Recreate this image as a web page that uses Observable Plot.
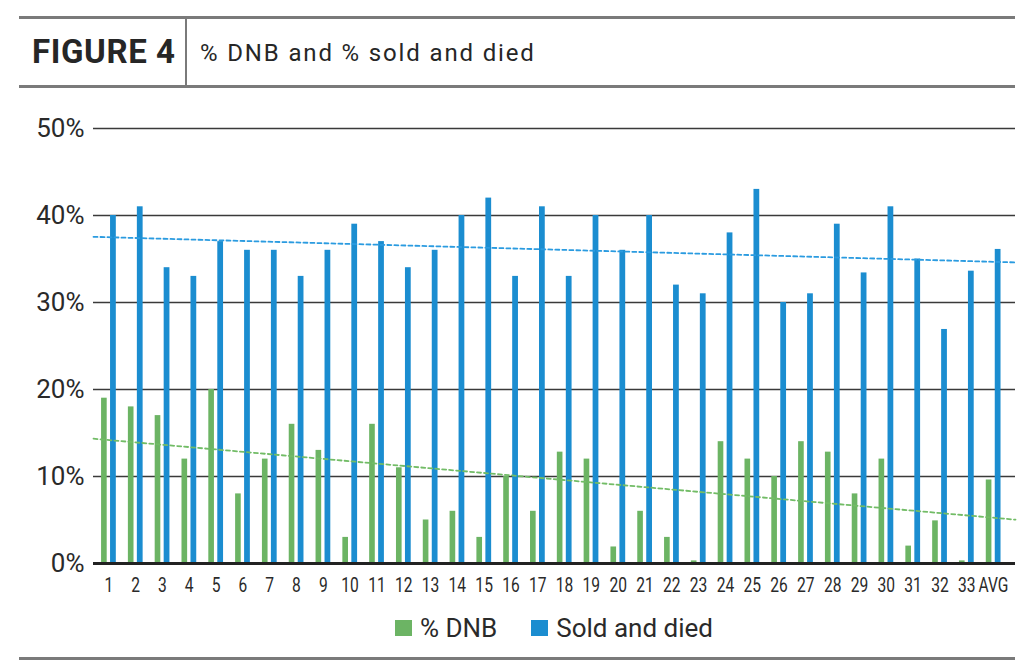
<!DOCTYPE html>
<html>
<head>
<meta charset="utf-8">
<script src="https://cdn.jsdelivr.net/npm/d3@7"></script>
<script src="https://cdn.jsdelivr.net/npm/@observablehq/plot@0.6"></script>
<style>
  html, body { margin: 0; padding: 0; background: #fff; }
  body { width: 1024px; height: 667px; position: relative; overflow: hidden; font-family: Roboto, "Noto Sans", sans-serif; color: #2a2a2a; }
  .rule { position: absolute; left: 19px; width: 996px; height: 3px; background: #7a7a7a; }
  .vdiv { position: absolute; left: 185px; top: 17px; width: 2px; height: 70px; background: #7a7a7a; }
  .fig { position: absolute; left: 32px; top: 30px; font-size: 33px; font-weight: 700; line-height: 44px; letter-spacing: 0.6px; color: #262626; }
  .sub { position: absolute; left: 200px; top: 37px; font-size: 24px; line-height: 32px; letter-spacing: 1.85px; color: #262626; }
  #chart { position: absolute; left: 0; top: 100px; }
  #legend { position: absolute; left: 93px; width: 922px; top: 610px; height: 36px; display: flex; justify-content: center; align-items: center; font-size: 26px; color: #2a2a2a; }
  .item { display: flex; align-items: center; margin: 0 17px; }
  .sw { width: 17px; height: 16px; margin-right: 8px; }
</style>
</head>
<body>
<div class="rule" style="top:16px"></div>
<div class="vdiv"></div>
<div class="fig">FIGURE 4</div>
<div class="sub">% DNB and % sold and died</div>
<div class="rule" style="top:85px"></div>
<div id="chart"></div>
<div id="legend"></div>
<div class="rule" style="top:657px"></div>
<script>
const categories = ["1","2","3","4","5","6","7","8","9","10","11","12","13","14","15","16","17","18","19","20","21","22","23","24","25","26","27","28","29","30","31","32","33","AVG"];
const dnb = [19,18,17,12,20,8,12,16,13,3,16,11,5,6,3,10,6,12.8,12,1.9,6,3,0.3,14,12,10,14,12.8,8,12,2,4.9,0.3,9.6];
const soldDied = [40,41,34,33,37,36,36,33,36,39,37,34,36,40,42,33,41,33,40,36,40,32,31,38,43,30,31,39,33.4,41,35,26.9,33.6,36.1];
const seriesNames = ["% DNB", "Sold and died"];
const seriesColors = ["#6cb464", "#1b8dd0"];
const trendColors = ["#72bc66", "#2a9be0"];
const yTicks = [0,10,20,30,40,50];

const xDomain = [-0.571, 33.82];

function fit(vals) {
  const xs = vals.map((_, i) => i);
  const mx = d3.mean(xs), my = d3.mean(vals);
  const sxy = d3.sum(xs, (x, i) => (x - mx) * (vals[i] - my));
  const sxx = d3.sum(xs, x => (x - mx) ** 2);
  const b = sxy / sxx, a = my - b * mx;
  return xDomain.map(x => ({x, y: a + b * x}));
}

const rows = categories.map((c, i) => ({i, c, dnb: dnb[i], sold: soldDied[i]}));

const chart = Plot.plot({
  width: 1024,
  height: 500,
  marginLeft: 93,
  marginRight: 9,
  marginTop: 28,
  marginBottom: 37,
  style: {fontFamily: "Roboto, sans-serif", color: "#2a2a2a", background: "transparent"},
  x: {type: "linear", domain: xDomain, axis: null},
  y: {domain: [0, 50], axis: null},
  marks: [
    Plot.gridY(yTicks.slice(1), {stroke: "#3a3a3a", strokeOpacity: 1, strokeWidth: 1.5}),
    Plot.rectY(rows, {x1: d => d.i - 0.27, x2: d => d.i - 0.06, y1: 0, y2: "dnb", fill: seriesColors[0]}),
    Plot.rectY(rows, {x1: d => d.i + 0.065, x2: d => d.i + 0.28, y1: 0, y2: "sold", fill: seriesColors[1]}),
    Plot.line(fit(dnb), {x: "x", y: "y", stroke: trendColors[0], strokeWidth: 1.8, strokeDasharray: "4,3"}),
    Plot.line(fit(soldDied), {x: "x", y: "y", stroke: trendColors[1], strokeWidth: 1.8, strokeDasharray: "4,3"}),
    Plot.ruleY([0], {stroke: "#222", strokeWidth: 3}),
    Plot.axisY({ticks: yTicks, tickFormat: d => d + "%", tickSize: 0, tickPadding: 9, fontSize: 26, fill: "#2a2a2a", label: null}),
    Plot.axisX({ticks: d3.range(categories.length), tickFormat: i => categories[i], tickSize: 0, tickPadding: 15,
      fontSize: 19.5, fill: "#2a2a2a", label: null, className: "xlab"})
  ]
});
// narrow the category labels to mimic the condensed face of the original
chart.querySelectorAll(".xlab text").forEach(t => {
  const tr = t.getAttribute("transform") || "";
  t.setAttribute("transform", tr + " scale(0.8,1)");
});
document.getElementById("chart").appendChild(chart);

const legend = document.getElementById("legend");
seriesNames.forEach((name, k) => {
  const item = document.createElement("div");
  item.className = "item";
  const sw = document.createElement("span");
  sw.className = "sw";
  sw.style.background = seriesColors[k];
  const t = document.createElement("span");
  t.textContent = name;
  item.appendChild(sw); item.appendChild(t);
  legend.appendChild(item);
});
</script>
</body>
</html>
